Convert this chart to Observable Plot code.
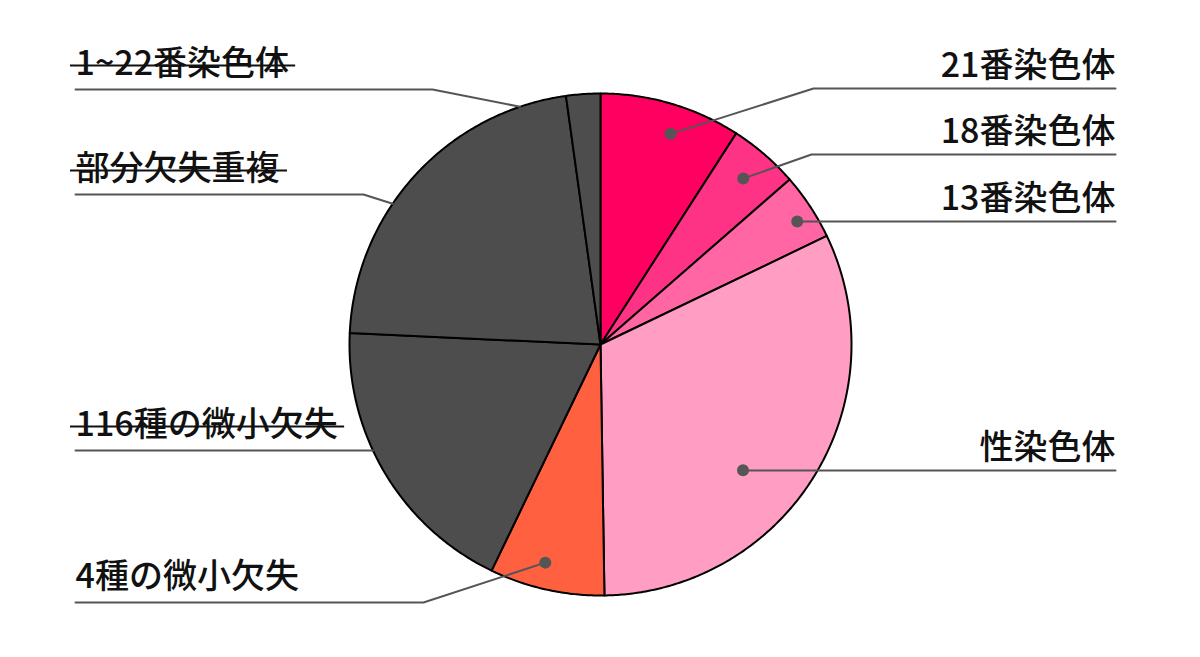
<!DOCTYPE html>
<html>
<head>
<meta charset="utf-8">
<script src="https://cdn.jsdelivr.net/npm/d3@7"></script>
<script src="https://cdn.jsdelivr.net/npm/@observablehq/plot@0.6"></script>
<style>
  html, body { margin: 0; padding: 0; background: #fff; }
  #chart svg { display: block; }
</style>
</head>
<body>
<div id="chart"></div>
<script>
// ---- data ----
const labels = ["21番染色体", "18番染色体", "13番染色体", "性染色体", "4種の微小欠失", "116種の微小欠失", "部分欠失重複", "1~22番染色体"];
const values = [9.1, 4.5, 4.3, 31.9, 7.4, 18.6, 22.1, 2.2];
const colors = ["#ff0060", "#ff3385", "#ff66a3", "#ff9dc3", "#ff6040", "#4d4d4d", "#4d4d4d", "#4d4d4d"];
const struck = [false, false, false, false, false, true, true, true];

// ---- layout (not data) ----
const W = 1200, H = 657;
const CX = 600, CY = 344, R = 251;
const FONT = 34;
const RIGHT_X = 1115, LEFT_X = 75;
// leader anchor: angle (deg, clockwise from 12 o'clock), radius, label row y, elbow x
const leaderAngle = [18.4, 40.7, 58, 131.4, 194.2, 245, 304.1, 341.3];
const leaderRadius = [222, 219, 232, 190, 225, R, R, R];
const leaderDot = [true, true, true, true, true, false, false, false];
const rowY = [88, 154, 221, 470, 602, 450, 194, 89];
const elbowX = [813, 811, null, null, 423, null, 363, 432];
const side = ["right", "right", "right", "right", "left", "left", "left", "left"];

const pt = (a, r) => [CX + r * Math.sin(a), CY - r * Math.cos(a)];
const rad = d => d * Math.PI / 180;

// pie slices as polygons
const arcs = d3.pie().sort(null)(values);
const slicePts = [];
arcs.forEach((a, i) => {
  slicePts.push({k: labels[i], x: CX, y: CY});
  const n = Math.max(4, Math.ceil((a.endAngle - a.startAngle) / rad(0.5)));
  for (let j = 0; j <= n; j++) {
    const t = a.startAngle + (a.endAngle - a.startAngle) * j / n;
    const [x, y] = pt(t, R);
    slicePts.push({k: labels[i], x, y});
  }
});

// leader lines
const leaderPts = [];
const dots = [];
labels.forEach((l, i) => {
  const [dx, dy] = pt(rad(leaderAngle[i]), leaderRadius[i]);
  const endX = side[i] === "right" ? RIGHT_X : LEFT_X;
  const pts = [[dx, dy]];
  if (elbowX[i] != null) pts.push([elbowX[i], rowY[i]]);
  else pts.push([dx, rowY[i]]);
  pts.push([endX, rowY[i]]);
  pts.forEach(([x, y]) => leaderPts.push({k: l, x, y}));
  if (leaderDot[i]) dots.push({k: l, x: dx, y: dy});
});

// labels
const estWidth = s => [...s].reduce((w, c) => w + (c.charCodeAt(0) < 128 ? 0.56 : 1) * FONT, 0);
const labelRows = labels.map((l, i) => ({
  text: l,
  x: side[i] === "right" ? RIGHT_X : LEFT_X,
  y: rowY[i] - (side[i] === "right" ? 12 : 15),
  anchor: side[i] === "right" ? "end" : "start",
  struck: struck[i],
  sy: rowY[i] - 24,
  sx1: LEFT_X - 5,
  sx2: LEFT_X + estWidth(l) + 8
}));

const chart = Plot.plot({
  width: W,
  height: H,
  margin: 0,
  x: {domain: [0, W], range: [0, W], axis: null},
  y: {domain: [0, H], range: [0, H], axis: null},
  color: {domain: labels, range: colors},
  style: {fontFamily: "'Noto Sans CJK JP', 'Noto Sans', sans-serif", background: "#fff"},
  marks: [
    Plot.line(slicePts, {x: "x", y: "y", z: "k", fill: "k", stroke: "#000", strokeWidth: 2, curve: "linear-closed", strokeLinejoin: "round"}),
    Plot.line(leaderPts, {x: "x", y: "y", z: "k", stroke: "#555", strokeWidth: 2}),
    Plot.dot(dots, {x: "x", y: "y", r: 6, fill: "#555"}),
    Plot.text(labelRows.filter(d => d.anchor === "end"), {x: "x", y: "y", text: "text", textAnchor: "end", lineAnchor: "bottom", fontSize: FONT, fontWeight: 500, fill: "#111"}),
    Plot.text(labelRows.filter(d => d.anchor === "start"), {x: "x", y: "y", text: "text", textAnchor: "start", lineAnchor: "bottom", fontSize: FONT, fontWeight: 500, fill: "#111"}),
    Plot.ruleY(labelRows.filter(d => d.struck), {y: "sy", x1: "sx1", x2: "sx2", stroke: "#111", strokeWidth: 2})
  ]
});
document.getElementById("chart").appendChild(chart);
</script>
</body>
</html>
